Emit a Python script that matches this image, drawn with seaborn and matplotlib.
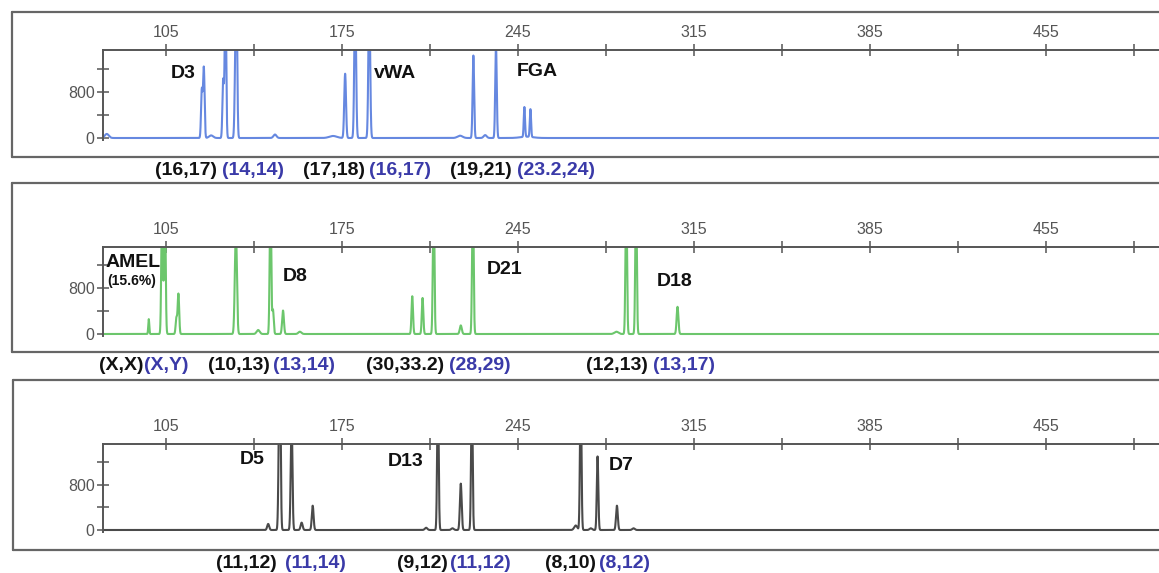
import numpy as np
import pandas as pd
import matplotlib
matplotlib.use("Agg")
import matplotlib.pyplot as plt
from matplotlib.lines import Line2D
import seaborn as sns

sns.set_style("white")
plt.rcParams["font.family"] = ["Liberation Sans", "DejaVu Sans"]

W, H = 1159, 573

# ---- peak tables per dye channel: fragment size (bp), height (RFU), peak sigma (bp)
blue_size   = [81.5, 119.3, 120.1, 123.0, 127.8, 128.7, 132.6, 133.1, 148.4,
               171.5, 176.3, 180.3, 185.9, 222.0, 227.3, 232.0, 236.3, 248.5, 247.6, 250.0]
blue_height = [70, 830, 1210, 45, 1000, 2500, 1000, 2500, 60,
               35, 1110, 2500, 2500, 40, 1425, 50, 1600, 22, 515, 480]
blue_sigma  = [0.8, 0.3, 0.3, 0.8, 0.3, 0.3, 0.3, 0.3, 0.6,
               1.5, 0.35, 0.35, 0.35, 1.0, 0.3, 0.6, 0.3, 2.5, 0.25, 0.25]

green_size   = [98.2, 103.5, 104.6, 109.2, 110.0, 132.6, 133.0, 141.7, 146.6,
                147.6, 151.6, 158.3, 203.0, 207.1, 211.5, 222.3, 227.1, 284.2,
                288.1, 292.0, 308.5]
green_height = [260, 2500, 2500, 280, 700, 800, 1270, 70, 2500,
                420, 410, 40, 660, 630, 2500, 150, 2500, 40,
                2500, 2500, 475]
green_sigma  = [0.2, 0.3, 0.3, 0.3, 0.3, 0.35, 0.35, 0.6, 0.3,
                0.3, 0.35, 0.6, 0.3, 0.3, 0.3, 0.4, 0.3, 0.8,
                0.3, 0.3, 0.35]

gray_size   = [145.7, 150.0, 150.4, 154.8, 155.1, 159.0, 163.4, 208.5, 213.2,
               219.0, 222.3, 226.7, 268.0, 270.0, 274.0, 276.7, 284.4, 291.0]
gray_height = [107, 1200, 2500, 700, 1460, 130, 430, 40, 2500,
               30, 820, 2500, 80, 2500, 30, 1300, 430, 30]
gray_sigma  = [0.4, 0.3, 0.3, 0.3, 0.3, 0.4, 0.35, 0.5, 0.3,
               0.5, 0.35, 0.3, 0.6, 0.3, 0.5, 0.3, 0.35, 0.5]

# ---- loci and genotype calls (black = reference, blue = sample)
blue_loci  = ["D3", "vWA", "FGA"]
green_loci = ["AMEL", "D8", "D21", "D18"]
gray_loci  = ["D5", "D13", "D7"]

blue_calls  = ["(16,17)", "(14,14)", "(17,18)", "(16,17)", "(19,21)", "(23.2,24)"]
green_calls = ["(X,X)", "(X,Y)", "(10,13)", "(13,14)", "(30,33.2)", "(28,29)",
               "(12,13)", "(13,17)"]
gray_calls  = ["(11,12)", "(11,14)", "(9,12)", "(11,12)", "(8,10)", "(8,12)"]

size_ticks  = [105, 175, 245, 315, 385, 455]
size_minor  = [140, 210, 280, 350, 420, 490]
rfu_ticks   = [0, 800]
rfu_minor   = [400, 1200]

# ---- styling / layout (pixels)
BLUE_TRACE, GREEN_TRACE, GRAY_TRACE = "#6688e0", "#6cc66c", "#4a4a4a"
CALL_COLORS = ["#111111", "#3a3aa8"]
AXIS_GRAY = "#555555"
YMIN, YMAX = -35, 1520
XMIN, XMAX = 80, 500
AX_LEFT = 103

panels = [
    dict(size=blue_size, height=blue_height, sigma=blue_sigma, color=BLUE_TRACE,
         top=50, base=138, box=(12, 12, 157),
         loci=blue_loci, loci_xy=[(183, 73), (395, 73), (537, 72)],
         calls=blue_calls, calls_y=170, calls_x=[186, 253, 334, 400, 481, 556]),
    dict(size=green_size, height=green_height, sigma=green_sigma, color=GREEN_TRACE,
         top=247, base=334, box=(12, 183, 352),
         loci=green_loci, loci_xy=[(133, 262), (295, 276), (505, 269), (675, 282)],
         calls=green_calls, calls_y=366,
         calls_x=[121, 166, 239, 304, 405, 480, 617, 684]),
    dict(size=gray_size, height=gray_height, sigma=gray_sigma, color=GRAY_TRACE,
         top=444, base=530, box=(13, 380, 550),
         loci=gray_loci, loci_xy=[(252, 460), (406, 461), (621, 466)],
         calls=gray_calls, calls_y=563, calls_x=[246, 315, 422, 480, 570, 625]),
]

fig = plt.figure(figsize=(W / 100, H / 100), dpi=100)
fig.patch.set_facecolor("white")


def fx(px):
    return px / W


def fy(py):
    return 1 - py / H


grid = np.arange(XMIN - 2, XMAX + 2, 0.02)

for p in panels:
    # outer panel frame
    left, top, bottom = p["box"]
    for xs, ys in [([fx(left), 1.02], [fy(top), fy(top)]),
                   ([fx(left), 1.02], [fy(bottom), fy(bottom)]),
                   ([fx(left), fx(left)], [fy(top), fy(bottom)])]:
        fig.add_artist(Line2D(xs, ys, color="#666666", lw=1.6))

    # electropherogram axes
    px_per_unit = (p["base"] - p["top"]) / YMAX
    bottom_px = p["base"] - YMIN * px_per_unit
    ax = fig.add_axes([fx(AX_LEFT), fy(bottom_px), fx(W - AX_LEFT),
                       (bottom_px - p["top"]) / H])
    ax.set_facecolor("none")

    trace = np.zeros_like(grid)
    for s, h, w in zip(p["size"], p["height"], p["sigma"]):
        trace += h * np.exp(-0.5 * ((grid - s) / w) ** 2)
    df = pd.DataFrame({"size": grid, "rfu": trace})
    sns.lineplot(data=df, x="size", y="rfu", ax=ax, color=p["color"],
                 linewidth=1.5, estimator=None)

    ax.set_xlim(XMIN, XMAX)
    ax.set_ylim(YMIN, YMAX)
    ax.set_xlabel("")
    ax.set_ylabel("")
    for side in ["bottom", "right"]:
        ax.spines[side].set_visible(False)
    for side in ["top", "left"]:
        ax.spines[side].set_color(AXIS_GRAY)
        ax.spines[side].set_linewidth(1.4)

    ax.xaxis.tick_top()
    ax.set_xticks(size_ticks)
    ax.set_xticks(size_minor, minor=True)
    ax.set_yticks(rfu_ticks)
    ax.set_yticks(rfu_minor, minor=True)
    ax.tick_params(axis="both", which="both", direction="inout", length=8,
                   width=1.1, color=AXIS_GRAY, labelsize=11.5,
                   labelcolor=AXIS_GRAY)
    ax.tick_params(axis="x", which="both", top=True, bottom=False, pad=3)
    ax.tick_params(axis="y", which="both", left=True, right=False, pad=2)

    # locus names
    for name, (x, y) in zip(p["loci"], p["loci_xy"]):
        fig.text(fx(x), fy(y), name, ha="center", va="center",
                 fontsize=14, fontweight="bold", color="#111111")

    # genotype calls under each panel
    for i, (call, x) in enumerate(zip(p["calls"], p["calls_x"])):
        fig.text(fx(x), fy(p["calls_y"]), call, ha="center", va="center",
                 fontsize=14, fontweight="bold", color=CALL_COLORS[i % 2])

fig.text(fx(132), fy(281), "(15.6%)", ha="center", va="center",
         fontsize=10, fontweight="bold", color="#111111")

fig.savefig("out.png", dpi=100, facecolor="white")
